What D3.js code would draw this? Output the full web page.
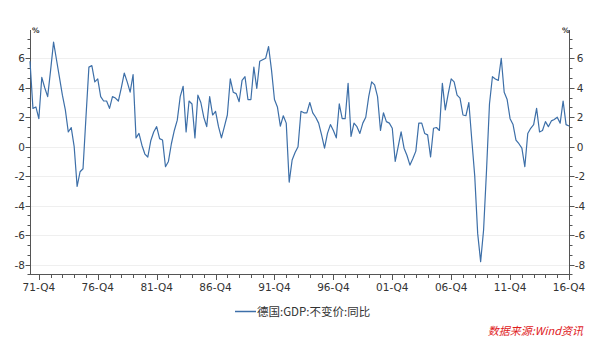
<!DOCTYPE html>
<html><head><meta charset="utf-8">
<script src="https://cdn.jsdelivr.net/npm/d3@7/dist/d3.min.js"></script>
<style>
html,body{margin:0;padding:0;background:#fff;}
svg{display:block;font-family:"DejaVu Sans","Liberation Sans",Arial,sans-serif;}
</style></head>
<body>
<svg id="c" width="600" height="338"></svg>
<script>
// quarters from 71-Q1 to 16-Q4
const startYear = 1971;
const endYear = 2016;
// 德国:GDP:不变价:同比 (%)
const gdpYoY = [
 5.8, 2.6, 2.7, 1.9, 4.7, 4.0, 3.4, 5.2, 7.1, 5.9,
 4.7, 3.5, 2.5, 1.0, 1.3, 0.0,-2.7,-1.7,-1.5, 2.0,
 5.4, 5.5, 4.4, 4.6, 3.4, 3.1, 3.1, 2.6, 3.4, 3.3,
 3.1, 4.0, 5.0, 4.4, 3.7, 4.9, 0.6, 0.9, 0.1,-0.5,
-0.7, 0.4, 1.0, 1.36,0.55,0.45,-1.36,-1.0,0.2, 1.1,
 1.8, 3.4, 4.1, 1.0, 3.1, 2.9, 0.6, 3.5, 3.0, 2.0,
 1.36,3.4, 2.15,2.4, 1.36,0.6, 1.36,2.15,4.6, 3.7,
 3.6, 3.05,4.5, 4.75,3.2, 3.2, 5.4, 3.95,5.8, 5.9,
 6.0, 6.8, 5.2, 3.2, 2.7, 1.4, 2.1, 1.6,-2.4,-0.9,
-0.4, 0.0, 2.4, 2.3, 2.3, 3.0, 2.3, 2.0, 1.6, 0.8,
-0.1, 0.9, 1.5, 1.1, 0.6, 2.9, 1.9, 1.9, 4.3, 0.7,
 1.6, 1.36,0.9, 1.6, 2.0, 3.4, 4.4, 4.2, 3.4, 1.1,
 2.3, 1.7, 1.6, 1.25,-1.0,0.0, 1.0,-0.1,-0.6,-1.25,
-0.8,-0.3, 1.6, 1.6, 0.9, 0.8,-0.7, 1.25,1.3, 1.1,
 4.3, 2.5, 3.6, 4.6, 4.4, 3.5, 3.3, 2.15,2.1, 3.0,
 0.45,-2.0,-5.9,-7.8,-5.65,-1.6,2.9, 4.75,4.6, 4.5,
 6.0, 3.7, 3.2, 1.9, 1.5, 0.45,0.2,-0.1,-1.36,0.9,
 1.25,1.5, 2.6, 1.0, 1.1, 1.7, 1.36,1.75,1.85,2.0,
 1.6, 3.1, 1.5, 1.4
];
const xTickLabels = ["71-Q4","76-Q4","81-Q4","86-Q4","91-Q4","96-Q4","01-Q4","06-Q4","11-Q4","16-Q4"];
const yTickValues = [-8,-6,-4,-2,0,2,4,6];
const seriesName = "德国:GDP:不变价:同比";
const sourceText = "数据来源:Wind资讯";

const categories = [];
for (let y = startYear; y <= endYear; y++) for (let q = 1; q <= 4; q++)
  categories.push(String(y % 100).padStart(2,"0") + "-Q" + q);
const data = categories.map((c,i)=>({c, i, v: gdpYoY[i]}));

const svg = d3.select("#c");
const L = 30, R = 569, T = 30, B = 274;
const x = d3.scaleLinear().domain([0, categories.length-1]).range([L, R]);
const y = d3.scaleLinear().domain([-8.64, 7.92]).range([B, T]);
const txt = "#333";

// gridlines
svg.append("g").selectAll("line").data(yTickValues).join("line")
  .attr("x1", L).attr("x2", R).attr("y1", d=>Math.round(y(d))+0.5).attr("y2", d=>Math.round(y(d))+0.5)
  .attr("stroke", "#efefef").attr("stroke-width", 1);

// minor y ticks (every 2/3)
const minorY = [];
for (let k = -13; k <= 11; k++) minorY.push(k*2/3);

function yAxis(side){
  const g = svg.append("g");
  const ax = side === "left" ? L : R;
  const dir = side === "left" ? -1 : 1;
  g.append("line").attr("x1", ax+0.5).attr("x2", ax+0.5).attr("y1", T).attr("y2", B)
    .attr("stroke", "#555").attr("stroke-width", 1);
  g.selectAll("line.mn").data(minorY.filter(d=>y(d)>=T && y(d)<=B+1)).join("line").attr("class","mn")
    .attr("x1", ax+0.5).attr("x2", ax+0.5+dir*3)
    .attr("y1", d=>Math.round(y(d))+0.5).attr("y2", d=>Math.round(y(d))+0.5)
    .attr("stroke", "#555");
  g.selectAll("line.mj").data(yTickValues).join("line").attr("class","mj")
    .attr("x1", ax+0.5).attr("x2", ax+0.5+dir*5)
    .attr("y1", d=>Math.round(y(d))+0.5).attr("y2", d=>Math.round(y(d))+0.5)
    .attr("stroke", "#555");
  g.selectAll("text").data(yTickValues).join("text")
    .attr("x", side === "left" ? 25 : 580)
    .attr("y", d=>y(d)+4)
    .attr("text-anchor", side === "left" ? "end" : "middle")
    .attr("font-size", 10.5).attr("fill", txt)
    .text(d=>d);
  g.append("text").attr("x", side === "left" ? 32 : 562).attr("y", 33)
    .attr("font-size", 7.5).attr("font-weight", "bold").attr("fill", txt).text("%");
}
yAxis("left");
yAxis("right");

// x axis
const gx = svg.append("g");
gx.append("line").attr("x1", L).attr("x2", R+0.5).attr("y1", B+0.5).attr("y2", B+0.5)
  .attr("stroke", "#555");
const minorX = d3.range(3, categories.length, 4);
gx.selectAll("line.mn").data(minorX).join("line").attr("class","mn")
  .attr("x1", d=>Math.round(x(d))+0.5).attr("x2", d=>Math.round(x(d))+0.5)
  .attr("y1", B).attr("y2", B+4).attr("stroke", "#555");
const majorX = xTickLabels.map(l => categories.indexOf(l));
gx.selectAll("line.mj").data(majorX).join("line").attr("class","mj")
  .attr("x1", d=>Math.round(x(d))+0.5).attr("x2", d=>Math.round(x(d))+0.5)
  .attr("y1", B).attr("y2", B+6).attr("stroke", "#555");
gx.selectAll("text").data(majorX).join("text")
  .attr("x", d=>x(d)).attr("y", 291)
  .attr("text-anchor", "middle").attr("font-size", 10.5).attr("fill", txt)
  .text(d=>categories[d]);

// series line
svg.append("path").datum(data)
  .attr("fill", "none").attr("stroke", "#3d6fa8").attr("stroke-width", 1.2)
  .attr("stroke-linejoin", "round")
  .attr("d", d3.line().x(d=>x(d.i)).y(d=>y(d.v)));

// legend
svg.append("line").attr("x1", 235).attr("x2", 256).attr("y1", 311.5).attr("y2", 311.5)
  .attr("stroke", "#3d6fa8").attr("stroke-width", 1.5);
svg.append("text").attr("x", 257).attr("y", 315.5).attr("font-size", 11.5).attr("fill", txt)
  .attr("font-family", "'Noto Sans CJK SC','Liberation Sans',sans-serif")
  .text(seriesName);

// source
svg.append("text").attr("x", 583).attr("y", 335).attr("text-anchor", "end")
  .attr("font-size", 11).attr("font-style", "italic").attr("fill", "#e0201c")
  .attr("font-family", "'Noto Sans CJK SC','Liberation Sans',sans-serif")
  .text(sourceText);
</script>
</body></html>
